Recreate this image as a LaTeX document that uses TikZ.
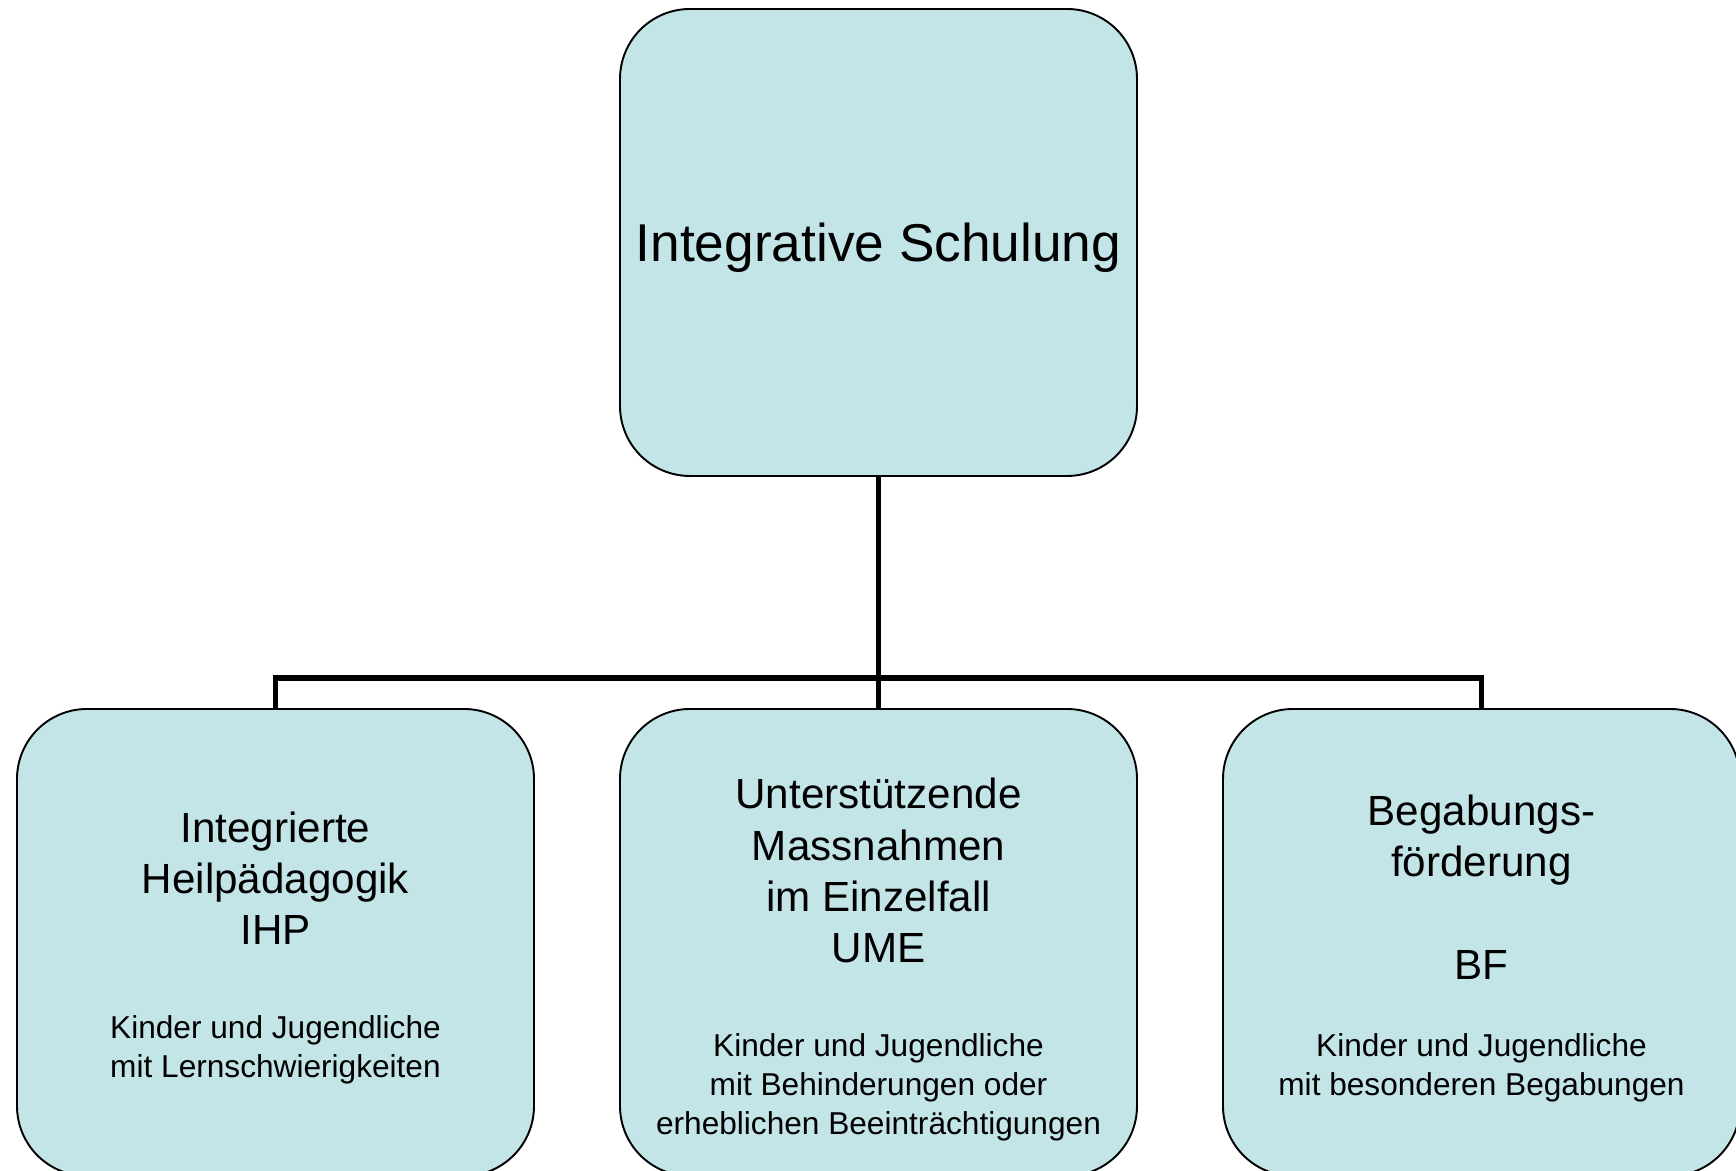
\documentclass[tikz,border=0pt]{standalone}
\usepackage{fontspec}
\setmainfont{Liberation Sans}
\usepackage{xcolor}
\usepackage{tikz}
\usetikzlibrary{positioning}
\definecolor{boxfill}{RGB}{196,229,232}
\newcommand{\klein}{\fontsize{18}{22}\selectfont}
\tikzset{
  ibox/.style={draw, line width=1.1pt, rounded corners=1.4cm, fill=boxfill,
               minimum width=10.34cm, minimum height=9.34cm, inner sep=0pt,
               align=center, font=\fontsize{24}{29.2}\selectfont,
               text depth=0pt},
  topbox/.style={ibox, font=\fontsize{30.3}{36}\selectfont},
  lnk/.style={line width=3pt},
}

\begin{document}
\begin{tikzpicture}
    \useasboundingbox (0,0) rectangle (34.72,23.42);
    \node[topbox] (ischul) at (17.57,18.57) {Integrative Schulung};
    \node[ibox] (ihp) at (5.51,4.57) {\rule{0pt}{19.7pt}Integrierte\\Heilpädagogik\\IHP\\[24pt]{\klein Kinder und Jugendliche}\\[-7pt]{\klein mit Lernschwierigkeiten}};
    \node[ibox] (ume) at (17.57,4.57) {\rule{0pt}{33pt}Unterstützende\\Massnahmen\\im Einzelfall\\UME\\[24pt]{\klein Kinder und Jugendliche}\\[-7pt]{\klein mit Behinderungen oder}\\[-7pt]{\klein erheblichen Beeinträchtigungen}};
    \node[ibox] (bf) at (29.63,4.57) {\rule{0pt}{20.6pt}Begabungs-\\förderung\\[29pt]BF\\[15pt]{\klein Kinder und Jugendliche}\\[-7pt]{\klein mit besonderen Begabungen}};

    \coordinate (jn) at (17.57,9.86);
    \draw[lnk] (ischul.south) -- (jn);
    \draw[lnk] (ihp.north) |- (jn) -| (bf.north);
    \draw[lnk] (jn) -- (ume.north);
\end{tikzpicture}
\end{document}
